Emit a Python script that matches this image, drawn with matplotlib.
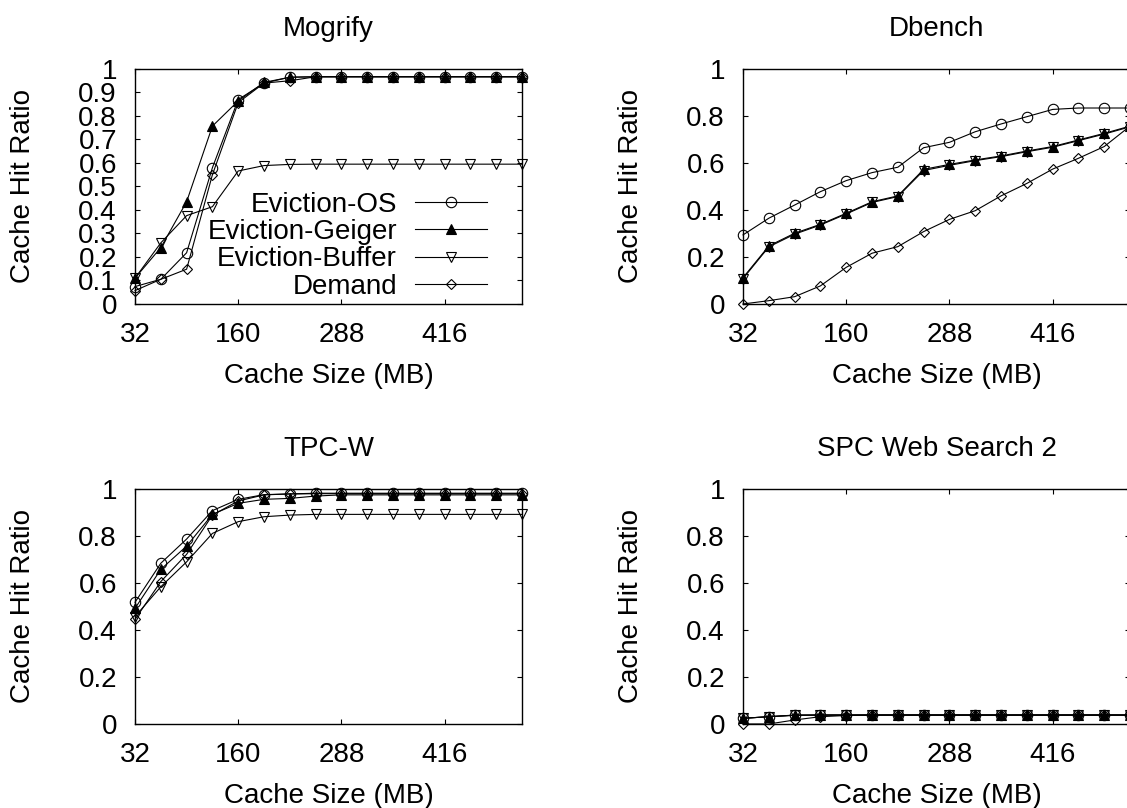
import numpy as np
import matplotlib.pyplot as plt
from matplotlib.ticker import FormatStrFormatter

plt.rcParams['font.family'] = ['Liberation Sans', 'DejaVu Sans']
plt.rcParams['font.size'] = 20

cache_mb = [32, 64, 96, 128, 160, 192, 224, 256, 288, 320, 352, 384, 416, 448, 480, 512]
series_names = ["Eviction-OS", "Eviction-Geiger", "Eviction-Buffer", "Demand"]

# Mogrify
mog_os = [0.074, 0.105, 0.218, 0.58, 0.87, 0.94, 0.965, 0.967, 0.967, 0.967, 0.967, 0.967, 0.967, 0.967, 0.967, 0.967]
mog_geiger = [0.11, 0.24, 0.435, 0.757, 0.864, 0.943, 0.965, 0.967, 0.967, 0.967, 0.967, 0.967, 0.967, 0.967, 0.967, 0.967]
mog_buffer = [0.11, 0.26, 0.376, 0.414, 0.566, 0.589, 0.594, 0.595, 0.595, 0.595, 0.595, 0.595, 0.595, 0.595, 0.595, 0.595]
mog_demand = [0.057, 0.105, 0.148, 0.55, 0.857, 0.94, 0.95, 0.967, 0.967, 0.967, 0.967, 0.967, 0.967, 0.967, 0.967, 0.967]

# Dbench
db_os = [0.294, 0.365, 0.421, 0.478, 0.525, 0.559, 0.582, 0.665, 0.688, 0.733, 0.766, 0.797, 0.828, 0.834, 0.834, 0.834]
db_geiger = [0.112, 0.247, 0.301, 0.339, 0.386, 0.435, 0.46, 0.573, 0.594, 0.613, 0.63, 0.651, 0.67, 0.698, 0.726, 0.757]
db_buffer = [0.108, 0.243, 0.297, 0.336, 0.383, 0.432, 0.457, 0.568, 0.59, 0.61, 0.627, 0.648, 0.667, 0.695, 0.723, 0.754]
db_demand = [0.0, 0.014, 0.031, 0.077, 0.156, 0.216, 0.244, 0.308, 0.36, 0.397, 0.46, 0.513, 0.574, 0.62, 0.67, 0.757]

# TPC-W
tpc_os = [0.518, 0.684, 0.787, 0.908, 0.956, 0.976, 0.979, 0.982, 0.982, 0.982, 0.982, 0.982, 0.982, 0.982, 0.982, 0.982]
tpc_geiger = [0.492, 0.658, 0.757, 0.892, 0.939, 0.956, 0.96, 0.97, 0.975, 0.975, 0.975, 0.975, 0.975, 0.975, 0.975, 0.975]
tpc_buffer = [0.457, 0.584, 0.69, 0.811, 0.861, 0.882, 0.889, 0.892, 0.892, 0.892, 0.892, 0.892, 0.892, 0.892, 0.892, 0.892]
tpc_demand = [0.445, 0.606, 0.722, 0.889, 0.949, 0.975, 0.979, 0.98, 0.98, 0.98, 0.98, 0.98, 0.98, 0.98, 0.98, 0.98]

# SPC Web Search 2
spc_os = [0.024, 0.031, 0.038, 0.038, 0.038, 0.038, 0.038, 0.038, 0.038, 0.038, 0.038, 0.038, 0.038, 0.038, 0.038, 0.038]
spc_geiger = [0.024, 0.031, 0.037, 0.038, 0.038, 0.038, 0.038, 0.038, 0.038, 0.038, 0.038, 0.038, 0.038, 0.038, 0.038, 0.038]
spc_buffer = [0.024, 0.031, 0.037, 0.038, 0.038, 0.038, 0.038, 0.038, 0.038, 0.038, 0.038, 0.038, 0.038, 0.038, 0.038, 0.038]
spc_demand = [0.0, 0.0, 0.017, 0.031, 0.036, 0.038, 0.038, 0.038, 0.038, 0.038, 0.038, 0.038, 0.038, 0.038, 0.038, 0.038]

panels = [
    ("Mogrify", [mog_os, mog_geiger, mog_buffer, mog_demand], 0.1),
    ("Dbench", [db_os, db_geiger, db_buffer, db_demand], 0.2),
    ("TPC-W", [tpc_os, tpc_geiger, tpc_buffer, tpc_demand], 0.2),
    ("SPC Web Search 2", [spc_os, spc_geiger, spc_buffer, spc_demand], 0.2),
]

styles = [
    dict(marker='o', mfc='none', ms=7.5),
    dict(marker='^', mfc='black', ms=7),
    dict(marker='v', mfc='none', ms=7.5),
    dict(marker='D', mfc='none', ms=5.5),
]

fig = plt.figure(figsize=(11.27, 8.08), dpi=100)
positions = [
    [0.1198, 0.6238, 0.3434, 0.2908],
    [0.6593, 0.6238, 0.3434, 0.2908],
    [0.1198, 0.1040, 0.3434, 0.2908],
    [0.6593, 0.1040, 0.3434, 0.2908],
]

for i, (title, data, ystep) in enumerate(panels):
    ax = fig.add_axes(positions[i])
    for name, vals, st in zip(series_names, data, styles):
        ax.plot(cache_mb, vals, color='black', lw=0.8, mec='black', mew=0.8,
                label=name, clip_on=False, **st)
    ax.set_xlim(32, 512)
    ax.set_ylim(0, 1)
    ax.set_xticks([32, 160, 288, 416])
    ax.set_yticks(np.arange(0, 1.0001, ystep))
    ax.yaxis.set_major_formatter(FormatStrFormatter('%g'))
    ax.tick_params(direction='in', length=3.5, width=0.8, top=True, right=True)
    ax.tick_params(axis='y', pad=13)
    ax.tick_params(axis='x', pad=13)
    for sp in ax.spines.values():
        sp.set_linewidth(1.0)
    ax.set_title(title, fontsize=20, pad=24)
    ax.set_xlabel("Cache Size (MB)", labelpad=11)
    ax.set_ylabel("Cache Hit Ratio")
    ax.yaxis.set_label_coords(-0.256, 0.5)
    if i == 0:
        leg = ax.legend(loc='lower right', bbox_to_anchor=(0.91, 0.018), frameon=False,
                        markerfirst=False, handlelength=2.6, handletextpad=0.65,
                        labelspacing=0.05, borderpad=0, borderaxespad=0, numpoints=1)

fig.savefig("out.png", dpi=100)
